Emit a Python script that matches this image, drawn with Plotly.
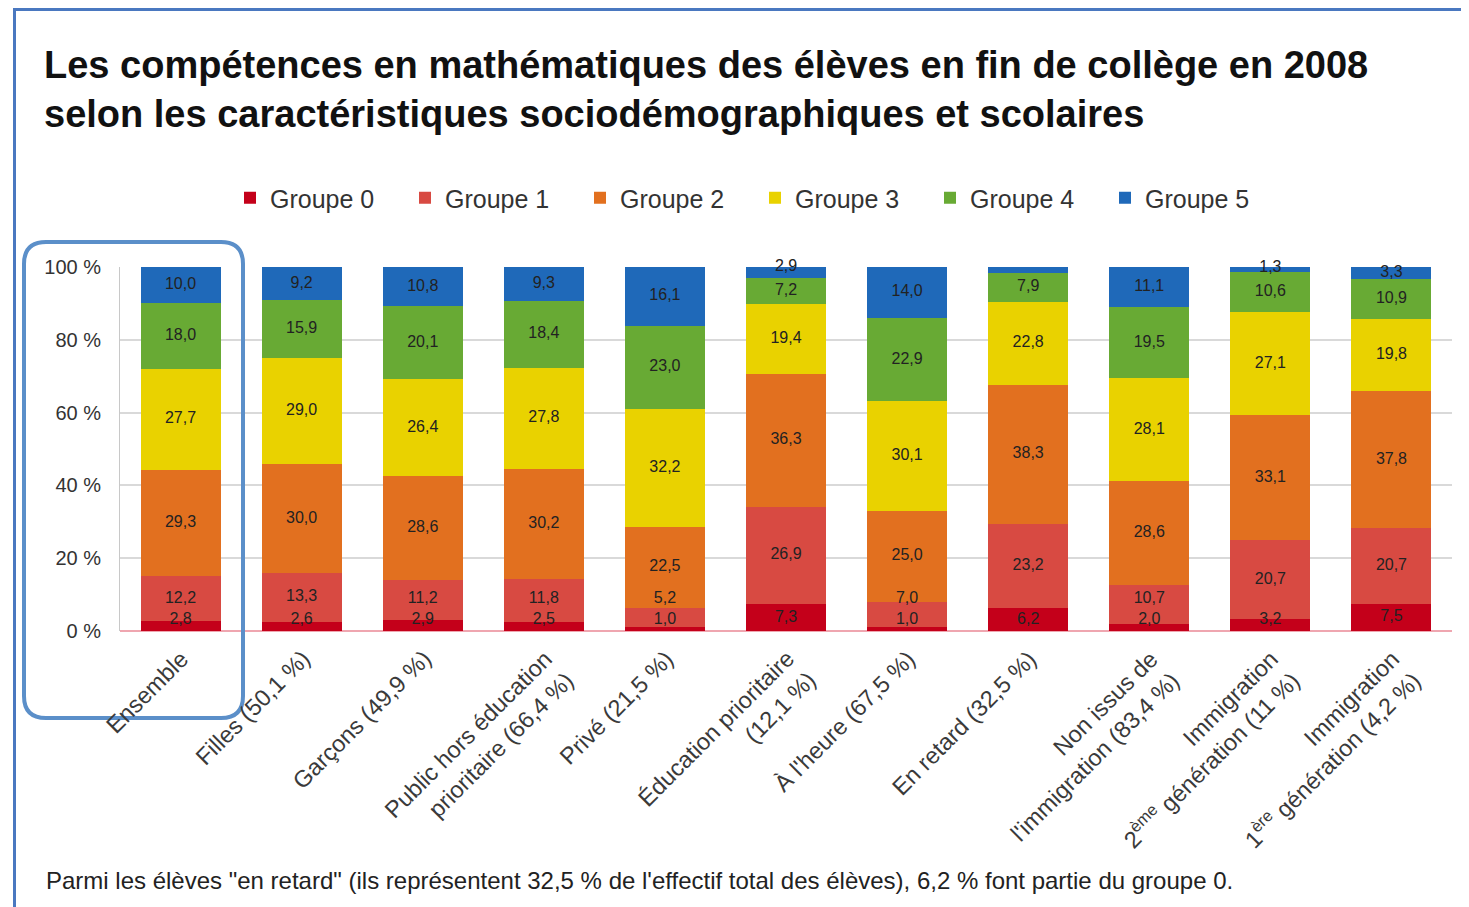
import plotly.graph_objects as go

categories = [
    "Ensemble",
    "Filles (50,1 %)",
    "Garçons (49,9 %)",
    "Public hors éducation<br>prioritaire (66,4 %)",
    "Privé (21,5 %)",
    "Éducation prioritaire<br>(12,1 %)",
    "À l'heure (67,5 %)",
    "En retard (32,5 %)",
    "Non issus de<br>l'immigration (83,4 %)",
    "Immigration<br>2<sup>ème</sup> génération (11 %)",
    "Immigration<br>1<sup>ère</sup> génération (4,2 %)",
]

groupe0 = [2.8, 2.6, 2.9, 2.5, 1.0, 7.3, 1.0, 6.2, 2.0, 3.2, 7.5]
groupe1 = [12.2, 13.3, 11.2, 11.8, 5.2, 26.9, 7.0, 23.2, 10.7, 20.7, 20.7]
groupe2 = [29.3, 30.0, 28.6, 30.2, 22.5, 36.3, 25.0, 38.3, 28.6, 33.1, 37.8]
groupe3 = [27.7, 29.0, 26.4, 27.8, 32.2, 19.4, 30.1, 22.8, 28.1, 27.1, 19.8]
groupe4 = [18.0, 15.9, 20.1, 18.4, 23.0, 7.2, 22.9, 7.9, 19.5, 10.6, 10.9]
groupe5 = [10.0, 9.2, 10.8, 9.3, 16.1, 2.9, 14.0, 1.6, 11.1, 1.3, 3.3]

series_names = ["Groupe 0", "Groupe 1", "Groupe 2", "Groupe 3", "Groupe 4", "Groupe 5"]
series_values = [groupe0, groupe1, groupe2, groupe3, groupe4, groupe5]
colors = ["#c4001a", "#d84a42", "#e2701f", "#e9d200", "#68aa34", "#1f69b9"]

y_ticks = [0, 20, 40, 60, 80, 100]
y_ticktext = ["0 %", "20 %", "40 %", "60 %", "80 %", "100 %"]

# page offset (browser body margin)
OFF = 8
W, H = 1469 - OFF, 907 - OFF
ML, MR, MT, MB = 120 - OFF, 17, 267 - OFF, 276
PW = W - ML - MR
PH = H - MT - MB

def px(x):
    return (x - OFF - ML) / PW

def py(y):
    return (H - MB - (y - OFF)) / PH

FONT = "Liberation Sans, Arial"

fig = go.Figure()
for name, vals, col in zip(series_names, series_values, colors):
    fig.add_trace(go.Bar(
        x=categories,
        y=vals,
        name=name,
        marker=dict(color=col, line=dict(width=0)),
        hoverinfo="name+y",
    ))

# value labels: centred in each (normalised) segment, nudged apart when crowded
n = len(categories)
GAP = 6.0
label_pos = [[0.0] * n for _ in series_values]
for i in range(n):
    total = sum(s[i] for s in series_values)
    cum = 0.0
    mids = []
    for s in series_values:
        v = s[i] * 100.0 / total
        mids.append(cum + v / 2)
        cum += v
    y0 = max(mids[0], 2.9)
    y1 = max(mids[1], y0 + GAP)
    y4 = mids[4]
    y5 = max(mids[5], y4 + GAP + 0.5)
    ys = [y0, y1, mids[2], mids[3], y4, y5]
    for k in range(len(series_values)):
        label_pos[k][i] = ys[k]

for name, vals, ys in zip(series_names, series_values, label_pos):
    fig.add_trace(go.Scatter(
        x=categories,
        y=ys,
        mode="text",
        text=[f"{v:.1f}".replace(".", ",") for v in vals],
        textposition="middle center",
        textfont=dict(family=FONT, size=16, color="#222222"),
        showlegend=False,
        hoverinfo="skip",
        cliponaxis=False,
    ))

# rotated, right-aligned category labels
annotations = []
for c in categories:
    nlines = c.count("<br>") + 1
    annotations.append(dict(
        text=c, x=c, xref="x", y=py(643), yref="paper",
        xanchor="right", yanchor="top", xshift=16 + 22 * (nlines - 1),
        textangle=-45, align="right", showarrow=False,
        font=dict(family=FONT, size=23.5, color="#3a3a3a"),
    ))

annotations.append(dict(
    text="Parmi les élèves \"en retard\" (ils représentent 32,5 % de l'effectif total des élèves), 6,2 % font partie du groupe 0.",
    xref="paper", yref="paper",
    x=px(44), y=py(880), xanchor="left", yanchor="middle",
    showarrow=False,
    font=dict(family=FONT, size=24, color="#222222"),
))

# decorative frame and rounded highlight box
r = 22
x0, x1, yt, yb = 24, 243, 242, 718
path = (
    f"M {px(x0 + r)} {py(yt)} L {px(x1 - r)} {py(yt)} "
    f"Q {px(x1)} {py(yt)} {px(x1)} {py(yt + r)} "
    f"L {px(x1)} {py(yb - r)} Q {px(x1)} {py(yb)} {px(x1 - r)} {py(yb)} "
    f"L {px(x0 + r)} {py(yb)} Q {px(x0)} {py(yb)} {px(x0)} {py(yb - r)} "
    f"L {px(x0)} {py(yt + r)} Q {px(x0)} {py(yt)} {px(x0 + r)} {py(yt)} Z"
)

shapes = [
    dict(type="line", xref="paper", yref="paper", x0=px(13), x1=px(1469), y0=py(9.5), y1=py(9.5),
         line=dict(color="#4a78c0", width=3)),
    dict(type="line", xref="paper", yref="paper", x0=px(14.5), x1=px(14.5), y0=py(8), y1=py(907),
         line=dict(color="#4a78c0", width=3)),
    dict(type="path", xref="paper", yref="paper", path=path,
         line=dict(color="#5b8fc9", width=4)),
]

fig.update_layout(
    width=W, height=H,
    barmode="stack",
    barnorm="percent",
    bargap=0.34,
    plot_bgcolor="white",
    paper_bgcolor="white",
    margin=dict(l=ML, r=MR, t=MT, b=MB),
    font=dict(family=FONT, color="#333333"),
    title=dict(
        text="<b>Les compétences en mathématiques des élèves en fin de collège en 2008<br>selon les caractéristiques sociodémographiques et scolaires</b>",
        xref="container", yref="container",
        x=(44 - OFF) / W, xanchor="left",
        y=1 - (78 - OFF) / H, yanchor="top",
        font=dict(family=FONT, size=38, color="#111111"),
    ),
    legend=dict(
        orientation="h",
        x=px(755), xanchor="center",
        y=py(198), yanchor="middle",
        font=dict(size=25, color="#333333"),
        traceorder="normal",
        entrywidth=130,
        itemwidth=30,
    ),
    xaxis=dict(
        range=[-0.5, len(categories) - 0.5],
        autorange=False,
        showticklabels=False,
        showgrid=False,
        showline=False,
        ticks="",
    ),
    yaxis=dict(
        range=[0, 100],
        autorange=False,
        tickmode="array",
        tickvals=y_ticks,
        ticktext=y_ticktext,
        tickfont=dict(size=20, color="#333333"),
        ticklabelstandoff=14,
        showgrid=True,
        gridcolor="#d9d9d9",
        gridwidth=1.5,
        zeroline=True,
        zerolinecolor="#efa6b0",
        zerolinewidth=1.5,
        showline=True,
        linecolor="#c8c8c8",
        linewidth=1,
    ),
    shapes=shapes,
    annotations=annotations,
)

fig.write_html("out.html")
